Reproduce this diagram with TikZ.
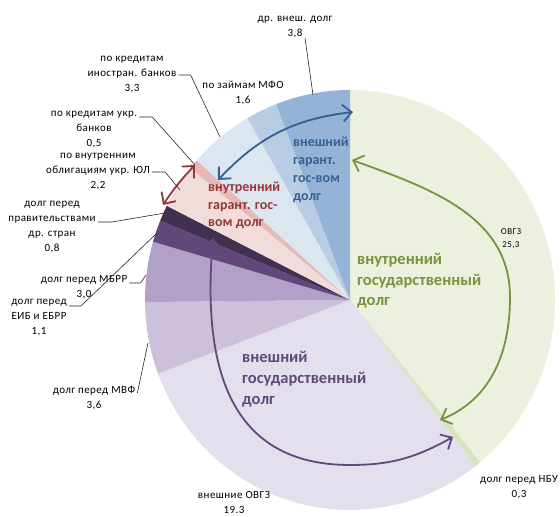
\documentclass[tikz,border=0pt]{standalone}
\usepackage{fontspec}
\setmainfont{Carlito}
\newfontfamily\lblfont[LetterSpace=4]{Carlito}
\usetikzlibrary{arrows.meta}

\definecolor{ovgz}{HTML}{EBF1DE}
\definecolor{nbu}{HTML}{D7E4BD}
\definecolor{vnovgz}{HTML}{E4DFEC}
\definecolor{mvf}{HTML}{CCC0DA}
\definecolor{mbrr}{HTML}{B1A0C7}
\definecolor{eib}{HTML}{60497A}
\definecolor{gov}{HTML}{403151}
\definecolor{yul}{HTML}{F2DCDB}
\definecolor{ukrb}{HTML}{E6B8B7}
\definecolor{inb}{HTML}{DCE6F1}
\definecolor{mfo}{HTML}{B8CCE4}
\definecolor{drd}{HTML}{95B3D7}
\definecolor{bluetxt}{HTML}{376092}
\definecolor{redtxt}{HTML}{953735}
\definecolor{greentxt}{HTML}{77933C}
\definecolor{purpletxt}{HTML}{604A7B}

\begin{document}
\begin{tikzpicture}[x=1pt,y=1pt,
		lbl/.style={align=center,inner sep=2pt,font=\lblfont\fontsize{11}{15}\selectfont},
		leader/.style={black!85,line width=0.6pt},
		big/.style={anchor=west,align=left,inner sep=0pt,font=\bfseries\fontsize{14}{18}\selectfont},
		dbl/.style={line width=1.8pt,<->,>={Straight Barb[length=9pt,width=17pt]}}]
		\useasboundingbox (0,0) rectangle (560,517);
		\coordinate (ctr) at (350,217);
		
		% slices, clockwise from the top
		\foreach \a/\b/\c in {90/-50.56/ovgz, -50.56/-52.22/nbu, -52.22/-159.44/vnovgz, -159.44/-179.44/mvf, -179.44/-196.11/mbrr, -196.11/-202.22/eib, -202.22/-206.67/gov, -206.67/-218.89/yul, -218.89/-221.67/ukrb, -221.67/-240/inb, -240/-248.89/mfo, -248.89/-270/drd}{
			\fill[\c] (ctr) -- ++(\a:205pt and 210pt) arc[start angle=\a, end angle=\b, x radius=205pt, y radius=210pt] -- cycle;
		}
		
		% double arrows
		\coordinate (b1) at (218,337);
		\coordinate (b2) at (353,405);
		\draw[dbl,bluetxt] (b1) to[bend left=20] (b2);
		\coordinate (r1) at (195,352);
		\coordinate (r2) at (163,312);
		\draw[dbl,redtxt] (r1) to[bend right=5] (r2);
		\coordinate (g1) at (352,357);
		\coordinate (g2) at (510,220);
		\coordinate (g3) at (440,97);
		\draw[dbl,greentxt] (g1) to[out=-20,in=90] (g2) to[out=-90,in=22] (g3);
		\coordinate (v1) at (213,279);
		\coordinate (v2) at (350,52);
		\coordinate (v3) at (453,80);
		\draw[dbl,purpletxt] (v1) to[out=265,in=180,looseness=1.2] (v2) to[out=0,in=209] (v3);
		
		% group names
		\node[big,bluetxt] (tBlue) at (293,347) {внешний\\гарант.\\гос-вом\\долг};
		\node[big,redtxt,font=\bfseries\fontsize{14}{17.5}\selectfont] (tRed) at (208,311.5) {внутренний\\гарант. гос-\\вом долг};
		\node[big,greentxt,font=\bfseries\fontsize{16.5}{20.5}\selectfont] (tGreen) at (357,236) {внутренний\\государственный\\долг};
		\node[big,purpletxt,font=\bfseries\fontsize{16.5}{21}\selectfont] (tPurple) at (242,138) {внешний\\государственный\\долг};
		
		% slice labels
		\node[lbl] (lDr) at (295,489.5) {др. внеш.  долг\\3,8};
		\node[lbl] (lInB) at (132,442) {по кредитам\\иностран.  банков\\3,3};
		\node[lbl] (lMfo) at (243,424.5) {по займам  МФО\\1,6};
		\node[lbl] (lUkrB) at (94,387) {по кредитам  укр.\\банков\\0,5};
		\node[lbl] (lYul) at (98,345) {по внутренним\\облигациям  укр. ЮЛ\\2,2};
		\node[lbl] (lGov) at (52,290) {долг перед\\правительствами\\др. стран\\0,8};
		\node[lbl] (lMbrr) at (84,229.5) {долг перед МБРР\\3,0};
		\node[lbl] (lEib) at (39,199) {долг перед\\ЕИБ  и  ЕБРР\\1,1};
		\node[lbl] (lMvf) at (94,119) {долг перед МВФ\\3,6};
		\node[lbl,inner sep=0pt] (lVnOvgz) at (234,15) {внешние  ОВГЗ\\19.3};
		\node[lbl] (lNbu) at (519,29.5) {долг  перед  НБУ\\0,3};
		\node[lbl,font=\lblfont\fontsize{9}{13}\selectfont] (lOvgz) at (511,278.5) {ОВГЗ\\25,3};
		
		% leader lines
		\coordinate (pDr) at (313,422);
		\coordinate (pInB) at (220,380);
		\coordinate (pUkrB) at (195,352);
		\coordinate (pYul) at (180,327);
		\coordinate (pGov) at (165,304);
		\coordinate (pMbrr) at (146,242);
		\coordinate (pEib) at (157,284);
		\coordinate (pMvf) at (148,174);
		\draw[leader] ([shift={(10,-10.5)}]lDr.center) -- (pDr);
		\draw[leader] (lInB.east) -- ++(12,0) -- (pInB);
		\draw[leader] ([yshift=13pt]lUkrB.east) -- ++(13,0) -- (pUkrB);
		\draw[leader] (lYul.east) -- ++(13,0) -- (pYul);
		\draw[leader] ([yshift=5pt]lGov.east) -- ++(14,0) -- (pGov);
		\draw[leader] ([yshift=4.5pt]lMbrr.east) -- ++(11,0) -- (pMbrr);
		\draw[leader] ([yshift=12pt]lEib.east) -- ++(12,0) -- (pEib);
		\draw[leader] ([yshift=5pt]lMvf.east) -- (pMvf);
\end{tikzpicture}
\end{document}
